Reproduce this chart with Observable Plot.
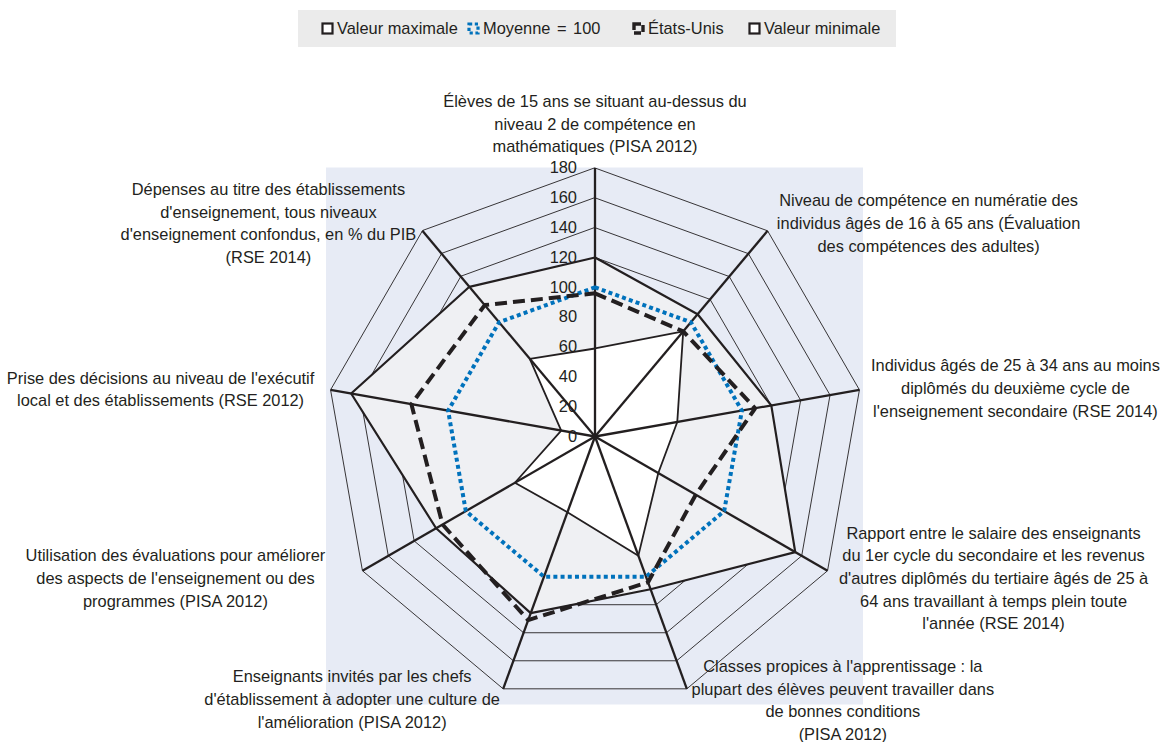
<!DOCTYPE html>
<html>
<head>
<meta charset="utf-8">
<script src="https://cdn.jsdelivr.net/npm/d3@7"></script>
<script src="https://cdn.jsdelivr.net/npm/@observablehq/plot@0.6"></script>
<style>
  html, body { margin: 0; padding: 0; background: #fff; }
  body { font-family: "Liberation Sans", Arial, sans-serif; color: #231f20; width: 1162px; }
  #legend { position: relative; height: 55px; }
  #legend .box { position: absolute; left: 298px; top: 10px; width: 598px; height: 37px; background: #ebebeb; }
  #legend .item { position: absolute; top: 18px; font-size: 16.4px; line-height: 20px; white-space: nowrap; display: flex; align-items: center; }
  #legend svg { margin-right: 3px; }
</style>
</head>
<body>
<div id="legend"><div class="box"></div></div>
<div id="chart"></div>
<script>
// ---- data ----
const categories = [
  "Élèves de 15 ans se situant au-dessus du\nniveau 2 de compétence en\nmathématiques (PISA 2012)",
  "Niveau de compétence en numératie des\nindividus âgés de 16 à 65 ans (Évaluation\ndes compétences des adultes)",
  "Individus âgés de 25 à 34 ans au moins\ndiplômés du deuxième cycle de\nl'enseignement secondaire (RSE 2014)",
  "Rapport entre le salaire des enseignants\ndu 1er cycle du secondaire et les revenus\nd'autres diplômés du tertiaire âgés de 25 à\n64 ans travaillant à temps plein toute\nl'année (RSE 2014)",
  "Classes propices à l'apprentissage : la\nplupart des élèves peuvent travailler dans\nde bonnes conditions\n(PISA 2012)",
  "Enseignants invités par les chefs\nd'établissement à adopter une culture de\nl'amélioration (PISA 2012)",
  "Utilisation des évaluations pour améliorer\ndes aspects de l'enseignement ou des\nprogrammes (PISA 2012)",
  "Prise des décisions au niveau de l'exécutif\nlocal et des établissements (RSE 2012)",
  "Dépenses au titre des établissements\nd'enseignement, tous niveaux\nd'enseignement confondus, en % du PIB\n(RSE 2014)"
];
const maxValues  = [120, 107, 120, 155, 109, 126, 123, 166, 131];
const meanValues = [100, 100, 100, 100, 100, 100, 100, 100, 100];
const usValues   = [96, 92, 109, 78, 104, 131, 118, 125, 115];
const minValues  = [59, 92, 56, 49, 85, 54, 62, 23, 68];
const ticks = [0, 20, 40, 60, 80, 100, 120, 140, 160, 180];
const legendLabels = ["Valeur maximale", "Moyenne = 100", "États-Unis", "Valeur minimale"];

// ---- layout ----
const W = 1162, H = 687;
const cx = 594.5, cy = 381;      // centre in px
const k = 1.4917;                // px per unit
const labelOffsets = [[0,-45.5],[161,-9],[156,-3],[166,6],[156,10],[-151,9],[-187,6],[-170,-2],[-154,-9]];
const legendX = [321, 467, 632, 748];

const n = categories.length;
const theta = categories.map((_, i) => i * 2 * Math.PI / n);
const R = d3.max(ticks);
const px = (v, i) => v * Math.sin(theta[i]);
const py = (v, i) => v * Math.cos(theta[i]);
const pts = (vals) => vals.map((v, i) => ({x: px(v, i), y: py(v, i)}));

const gridPts = ticks.filter(t => t > 0).flatMap(t => categories.map((c, i) => ({t, x: px(t, i), y: py(t, i)})));
const idx = d3.range(n);
const ink = "#231f20";

const marks = [
  Plot.rect([0], {x1: -R, x2: R, y1: -R, y2: R, fill: "#e7ebf5"}),
  Plot.line(gridPts, {x: "x", y: "y", z: "t", curve: "linear-closed", stroke: ink, strokeWidth: 0.9}),
  Plot.area(pts(maxValues), {x1: "x", y1: "y", x2: 0, y2: 0, curve: "linear-closed", fill: "#eff0f3"}),
  Plot.line(pts(maxValues), {x: "x", y: "y", curve: "linear-closed", stroke: ink, strokeWidth: 2.2}),
  Plot.area(pts(minValues), {x1: "x", y1: "y", x2: 0, y2: 0, curve: "linear-closed", fill: "#ffffff"}),
  Plot.line(pts(minValues), {x: "x", y: "y", curve: "linear-closed", stroke: ink, strokeWidth: 1.8}),
  Plot.link(idx, {x1: 0, y1: 0, x2: i => px(R, i), y2: i => py(R, i), stroke: ink, strokeWidth: 2.3}),
  Plot.line(pts(meanValues), {x: "x", y: "y", curve: "linear-closed", stroke: "#0072bc", strokeWidth: 4, strokeDasharray: "4,3.2", strokeLinecap: "butt", strokeLinejoin: "miter"}),
  Plot.line(pts(usValues), {x: "x", y: "y", curve: "linear-closed", stroke: ink, strokeWidth: 4, strokeDasharray: "12,6", strokeLinecap: "butt", strokeLinejoin: "miter"}),
  Plot.text(ticks, {x: 0, y: d => d, text: d => String(d), textAnchor: "end", dx: -18, fontSize: 16.4, fill: ink}),
  ...idx.map(i => Plot.text([i], {
    x: j => px(R, j), y: j => py(R, j), text: j => categories[j],
    dx: labelOffsets[i][0], dy: labelOffsets[i][1],
    textAnchor: "middle", lineAnchor: "middle", lineHeight: 1.38, fontSize: 16.4, fill: ink
  }))
];

const chart = Plot.plot({
  width: W, height: H, margin: 0,
  x: {domain: [-cx / k, (W - cx) / k], range: [0, W]},
  y: {domain: [-(H - cy) / k, cy / k], range: [H, 0]},
  axis: null,
  style: {fontFamily: "'Liberation Sans', Arial, sans-serif", background: "transparent", overflow: "visible"},
  marks
});
document.getElementById("chart").appendChild(chart);

// ---- legend ----
const icons = [
  `<rect x="1.5" y="1.5" width="10" height="10" fill="#fff" stroke="${ink}" stroke-width="2.2"/>`,
  `<rect x="2" y="2" width="9" height="9" fill="none" stroke="#0072bc" stroke-width="3.2" stroke-dasharray="3.2,2.6"/>`,
  `<rect x="2" y="2" width="9" height="9" fill="none" stroke="${ink}" stroke-width="3.4" stroke-dasharray="7,3"/>`,
  `<rect x="1.5" y="1.5" width="10" height="10" fill="#fff" stroke="${ink}" stroke-width="2.2"/>`
];
const leg = document.getElementById("legend");
legendLabels.forEach((lab, i) => {
  const d = document.createElement("div");
  d.className = "item";
  d.style.left = legendX[i] + "px";
  if (i === 1) d.style.wordSpacing = "2px";
  d.innerHTML = `<svg width="13" height="13" viewBox="0 0 13 13">${icons[i]}</svg><span>${lab}</span>`;
  leg.appendChild(d);
});
</script>
</body>
</html>
